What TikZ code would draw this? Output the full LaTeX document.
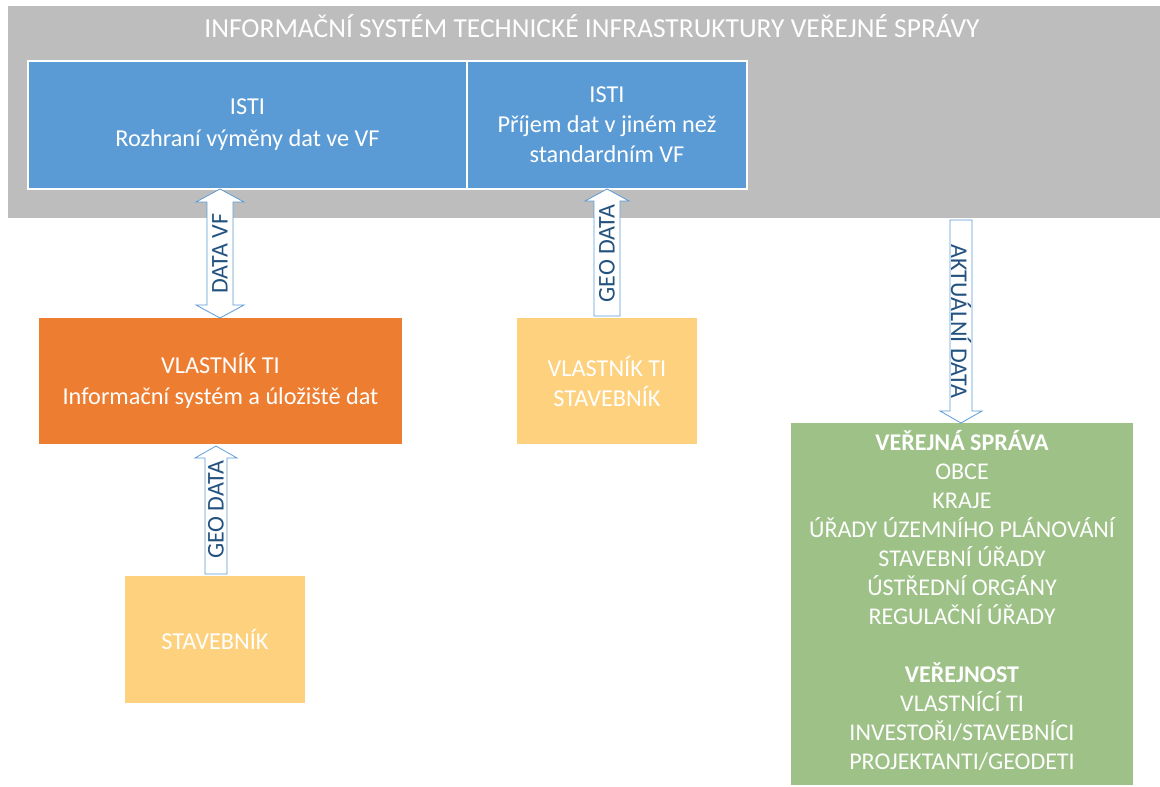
\documentclass[tikz,border=0pt]{standalone}
\usepackage{fontspec}
\setmainfont{Carlito}
\usetikzlibrary{calc,fit}
\definecolor{grayb}{HTML}{BDBDBD}
\definecolor{blueb}{HTML}{5B9BD5}
\definecolor{orangeb}{HTML}{ED7D31}
\definecolor{goldb}{HTML}{FED17E}
\definecolor{greenb}{HTML}{9DC186}
\definecolor{arrline}{HTML}{5B9BD5}
\definecolor{arrtext}{HTML}{24527F}
\tikzset{
  box/.style={inner sep=0pt, outer sep=0pt, align=center, text=white, font=\fontsize{18.2}{22.5}\selectfont},
  bluebox/.style={box, fill=blueb, draw=white, line width=1.2pt},
  arr/.style={draw=arrline, fill=white, line width=0.6pt, line join=miter},
  arrlabel/.style={text=arrtext, font=\fontsize{18}{20}\selectfont, inner sep=0pt},
}
\begin{document}
\begin{tikzpicture}[x=0.75pt,y=-0.75pt]
\useasboundingbox (0,0) rectangle (1160,787);
% background system box
\node[fit={(8,6) (1160,218)}, fill=grayb, inner sep=0pt, outer sep=0pt] (sys) {};
\node[text=white, font=\fontsize{20.6}{24}\selectfont] (title) at (592,26) {INFORMAČNÍ SYSTÉM TECHNICKÉ INFRASTRUKTURY VEŘEJNÉ SPRÁVY};
% blue boxes
\node[bluebox, fit={(28,61) (467,189)}] (isti1) {};
\node[box] at (isti1.center) {ISTI\\[1.5pt]Rozhraní výměny dat ve VF};
\node[bluebox, fit={(467,61) (747,189)}] (isti2) {};
\node[box] at (isti2.center) {ISTI\\Příjem dat v jiném než\\standardním VF};
% owner boxes
\node[box, fill=orangeb, fit={(39,318) (402,444)}] (own) {};
\node[box] at (own.center) {VLASTNÍK TI\\[1pt]Informační systém a úložiště dat};
\node[box, fill=goldb, fit={(517,318) (697,444)}] (ownb) {};
\node[box] at (ownb.center) {VLASTNÍK TI\\STAVEBNÍK};
\node[box, fill=goldb, fit={(125,576) (305,703)}] (stav) {};
\node[box] at (stav.center) {STAVEBNÍK};
% public administration box
\node[box, fill=greenb, fit={(791,423) (1133,785)}] (vs) {};
\node[box, font=\fontsize{18}{21.8}\selectfont, anchor=north] at ($(vs.north)+(0,7)$) {\textbf{VEŘEJNÁ SPRÁVA}\\OBCE\\KRAJE\\ÚŘADY ÚZEMNÍHO PLÁNOVÁNÍ\\STAVEBNÍ ÚŘADY\\ÚSTŘEDNÍ ORGÁNY\\REGULAČNÍ ÚŘADY\\[21.8pt]\textbf{VEŘEJNOST}\\VLASTNÍCÍ TI\\INVESTOŘI/STAVEBNÍCI\\PROJEKTANTI/GEODETI};
% arrow axes
\coordinate (xa) at (220,0);
\coordinate (xb) at (607,0);
\coordinate (xc) at (216,0);
\coordinate (xd) at (961,0);
% DATA VF double arrow
\draw[arr] (xa |- isti1.south) -- ++(24,13) -- ++(-11,0) -- ($(xa |- own.north)+(13,-13)$) -- ++(11,0) -- (xa |- own.north) -- ++(-24,-13) -- ++(11,0) -- ($(xa |- isti1.south)+(-13,13)$) -- ++(-11,0) -- cycle;
\node[arrlabel, rotate=90] (l1) at ($(xa |- isti1.south)!0.5!(xa |- own.north)$) {DATA VF};
% GEO DATA up arrow to ISTI 2
\draw[arr] (xb |- isti2.south) -- ++(22,12) -- ++(-9,0) -- ($(xb |- ownb.north)+(13,-2)$) -- ++(-26,0) -- ($(xb |- isti2.south)+(-13,12)$) -- ++(-9,0) -- cycle;
\node[arrlabel, rotate=90] (l2) at ($(xb |- isti2.south)!0.5!(xb |- ownb.north)$) {GEO DATA};
% GEO DATA up arrow to owner
\draw[arr] ($(xc |- own.south)+(0,2)$) -- ++(21,12) -- ++(-10,0) -- ($(xc |- stav.north)+(11,-2)$) -- ++(-22,0) -- ($(xc |- own.south)+(-11,14)$) -- ++(-10,0) -- cycle;
\node[arrlabel, rotate=90] (l3) at ($(xc |- own.south)!0.5!(xc |- stav.north)$) {GEO DATA};
% AKTUÁLNÍ DATA down arrow
\coordinate (ad) at (961,220);
\draw[arr] (xd |- vs.north) -- ++(21,-12) -- ++(-10,0) -- ($(ad)+(11,0)$) -- ++(-22,0) -- ($(xd |- vs.north)+(-11,-12)$) -- ++(-10,0) -- cycle;
\node[arrlabel, rotate=-90] (l4) at ($(ad)!0.5!(xd |- vs.north)$) {AKTUÁLNÍ DATA};
\end{tikzpicture}
\end{document}
